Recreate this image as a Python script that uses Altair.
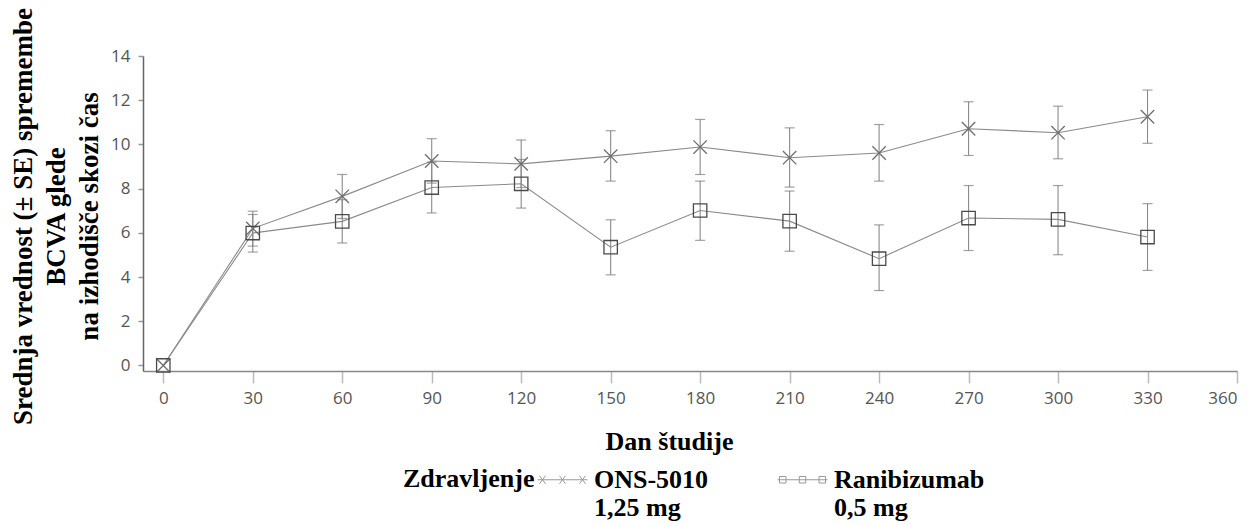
import altair as alt
import pandas as pd

# ---- data ----
days = [0, 30, 60, 90, 120, 150, 180, 210, 240, 270, 300, 330]
ons_mean = [0, 6.20, 7.65, 9.25, 9.12, 9.47, 9.88, 9.40, 9.61, 10.71, 10.53, 11.25]
ons_lo = [None, 5.40, 6.65, 8.25, 8.05, 8.34, 8.64, 8.07, 8.34, 9.50, 9.35, 10.05]
ons_hi = [None, 6.98, 8.64, 10.26, 10.20, 10.62, 11.13, 10.75, 10.90, 11.93, 11.73, 12.46]
rani_mean = [0, 5.99, 6.52, 8.05, 8.22, 5.35, 7.01, 6.53, 4.83, 6.67, 6.61, 5.81]
rani_lo = [None, 5.13, 5.54, 6.90, 7.12, 4.10, 5.66, 5.17, 3.39, 5.20, 5.01, 4.30]
rani_hi = [None, 6.83, 7.50, 9.20, 9.32, 6.59, 8.34, 7.89, 6.36, 8.14, 8.14, 7.32]

series_names = ["ONS-5010|1,25 mg", "Ranibizumab|0,5 mg"]
x_ticks = [0, 30, 60, 90, 120, 150, 180, 210, 240, 270, 300, 330, 360]
y_ticks = [0, 2, 4, 6, 8, 10, 12, 14]

rows = []
for name, m, lo, hi in [(series_names[0], ons_mean, ons_lo, ons_hi),
                        (series_names[1], rani_mean, rani_lo, rani_hi)]:
    for d, v, l, h in zip(days, m, lo, hi):
        rows.append({"day": d, "value": v, "lo": l, "hi": h, "series": name})
df = pd.DataFrame(rows)

SERIF = "Liberation Serif"
SANS = "Open Sans"

x_enc = alt.X("day:Q",
              scale=alt.Scale(domain=[-6.8, 360], nice=False, zero=False),
              axis=alt.Axis(values=x_ticks, title="Dan študije",
                            titleX=526, titleY=70, titleBaseline="middle",
                            titleAlign="center"))
y_enc = alt.Y("value:Q",
              scale=alt.Scale(domain=[-0.25, 14], nice=False, zero=False),
              axis=alt.Axis(values=y_ticks,
                            title=["Srednja vrednost (± SE) spremembe",
                                   "BCVA glede",
                                   "na izhodišče skozi čas"],
                            titleAngle=270, titleX=-133, titleY=160,
                            titleBaseline="top", titleAlign="center",
                            titleLineHeight=33, tickSize=5, labelPadding=8,
                            domainColor="#666", tickColor="#999"))

base = alt.Chart(df)

line = base.mark_line(color="#8a8a8a", strokeWidth=1.1).encode(
    x=x_enc, y=y_enc, detail="series:N")

valid = base.transform_filter("isValid(datum.lo)")
bars = valid.mark_rule(color="#8a8a8a", strokeWidth=1.1).encode(
    x="day:Q", y="lo:Q", y2="hi:Q")
cap_lo = valid.mark_tick(orient="horizontal", size=10, thickness=1.2,
                         color="#7a7a7a").encode(x="day:Q", y="lo:Q")
cap_hi = valid.mark_tick(orient="horizontal", size=10, thickness=1.2,
                         color="#7a7a7a").encode(x="day:Q", y="hi:Q")

XPATH = "M-1,-1L1,1M-1,1L1,-1"
points = base.mark_point(filled=False, strokeWidth=1.3, size=180, opacity=1).encode(
    x="day:Q", y="value:Q",
    shape=alt.Shape("series:N",
                    scale=alt.Scale(domain=series_names, range=[XPATH, "square"]),
                    legend=None),
    color=alt.Color("series:N",
                    scale=alt.Scale(domain=series_names, range=["#6e6e6e", "#4a4a4a"]),
                    legend=None),
)

LEG_ONS = ("M-1,0L1,0 "
           "M-0.92,-0.16L-0.68,0.16M-0.92,0.16L-0.68,-0.16 "
           "M-0.12,-0.16L0.12,0.16M-0.12,0.16L0.12,-0.16 "
           "M0.68,-0.16L0.92,0.16M0.68,0.16L0.92,-0.16")
LEG_RANI = ("M-1,0L1,0 "
            "M-0.92,-0.13H-0.66V0.13H-0.92Z "
            "M-0.13,-0.13H0.13V0.13H-0.13Z "
            "M0.66,-0.13H0.92V0.13H0.66Z")

legend_layer = base.mark_point(filled=False, opacity=0, size=10).encode(
    x="day:Q", y="value:Q",
    shape=alt.Shape("series:N",
                    scale=alt.Scale(domain=series_names, range=[LEG_ONS, LEG_RANI]),
                    legend=alt.Legend(
                        title=["", "Zdravljenje"], orient="none", direction="horizontal",
                        legendX=260, legendY=398, padding=0,
                        titleOrient="left", titleAnchor="start",
                        titleBaseline="middle", titlePadding=2, titleLineHeight=25,
                        titleFont=SERIF, titleFontSize=26, titleFontWeight="bold",
                        titleColor="black",
                        labelFont=SERIF, labelFontSize=26, labelFontWeight="bold",
                        labelColor="black", labelBaseline="middle",
                        labelExpr="split(datum.label, '|')",
                        labelLimit=300, labelOffset=6, columnPadding=66,
                        symbolSize=2500, symbolOpacity=1, symbolStrokeWidth=1,
                        symbolStrokeColor="#999", symbolFillColor="transparent",
                    )),
)

chart = alt.layer(line, bars, cap_lo, cap_hi, points, legend_layer).resolve_scale(
    shape="independent", color="independent"
).properties(
    width=1094, height=315,
    autosize=alt.AutoSizeParams(type="none"),
    padding={"left": 135, "top": 48, "right": 5, "bottom": 150},
).configure_view(stroke=None).configure_axis(
    grid=False,
    domainColor="#888", domainWidth=1.5,
    tickColor="#bbb", tickWidth=1.5,
    labelFont=SANS, labelFontSize=17, labelColor="#555",
    titleFont=SERIF, titleFontSize=26, titleFontWeight="bold", titleColor="black",
).configure_axisX(tickSize=12, labelPadding=7).configure_axisY(
    titleFontSize=27)

chart.save("out.html", embed_options={"renderer": "svg", "actions": False})
